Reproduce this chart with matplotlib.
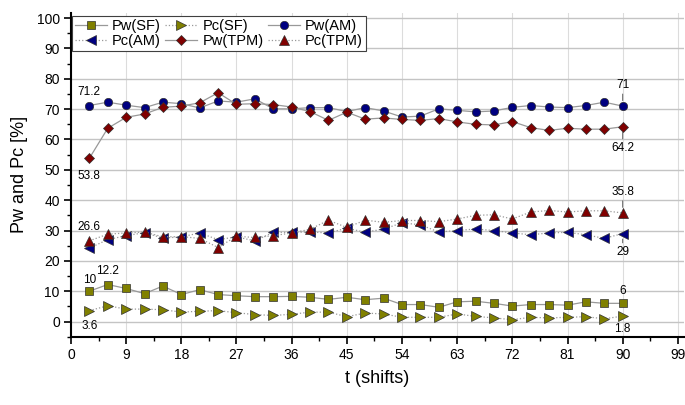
import matplotlib
matplotlib.use("Agg")
import matplotlib.pyplot as plt
from matplotlib.ticker import MultipleLocator

plt.rcParams['font.family'] = ['Liberation Sans', 'DejaVu Sans']

t = [3, 6, 9, 12, 15, 18, 21, 24, 27, 30, 33, 36, 39, 42, 45,
     48, 51, 54, 57, 60, 63, 66, 69, 72, 75, 78, 81, 84, 87, 90]

pw_sf = [10.0, 12.2, 10.9, 9.2, 11.7, 8.9, 10.5, 8.9, 8.5, 8.2, 8.2, 8.3, 8.0, 7.3, 8.0,
         7.2, 7.7, 5.6, 5.6, 4.7, 6.5, 6.7, 6.0, 5.1, 5.6, 5.6, 5.4, 6.5, 6.0, 6.0]
pc_sf = [3.6, 5.2, 4.1, 4.1, 3.9, 3.1, 3.4, 3.6, 2.9, 2.3, 2.0, 2.4, 3.1, 3.1, 1.6,
         2.8, 2.5, 1.4, 1.4, 1.4, 2.5, 1.7, 1.2, 0.6, 1.4, 1.2, 1.4, 1.6, 0.9, 1.8]
pw_am = [71.2, 72.3, 71.3, 70.5, 72.3, 71.8, 70.4, 72.7, 72.3, 73.4, 70.1, 70.1, 70.5, 70.5, 69.2,
         70.5, 69.4, 67.4, 67.7, 70.1, 69.6, 69.1, 69.4, 70.6, 71.2, 70.7, 70.5, 71.2, 72.3, 71.0]
pc_am = [24.2, 27.0, 28.3, 29.3, 27.5, 27.9, 29.2, 27.0, 27.9, 26.6, 29.4, 29.4, 29.5, 29.2, 30.8,
         29.4, 30.5, 32.5, 31.9, 29.5, 30.0, 30.5, 30.0, 29.2, 28.6, 29.2, 29.4, 28.6, 27.4, 29.0]
pw_tpm = [53.8, 63.7, 67.3, 68.4, 70.6, 71.0, 72.1, 75.4, 71.6, 71.8, 71.5, 70.7, 69.2, 66.3, 69.0,
          66.7, 67.1, 66.6, 66.3, 66.9, 65.8, 65.0, 64.8, 65.9, 63.9, 63.0, 63.7, 63.4, 63.4, 64.2]
pc_tpm = [26.6, 28.8, 29.2, 29.5, 27.9, 28.0, 27.4, 24.4, 28.1, 27.7, 28.3, 29.2, 30.4, 33.4, 31.0,
          33.4, 32.7, 33.3, 33.3, 32.9, 33.8, 35.0, 35.2, 33.8, 36.1, 36.6, 36.1, 36.5, 36.5, 35.8]

x_ticks = [0, 9, 18, 27, 36, 45, 54, 63, 72, 81, 90, 99]
y_ticks = [0, 10, 20, 30, 40, 50, 60, 70, 80, 90, 100]

OLIVE = '#808000'
NAVY = '#000080'
DRED = '#800000'
LINE = '#999999'

fig = plt.figure(figsize=(6.85, 4.05), dpi=100)
ax = fig.add_axes([0.1036, 0.1686, 0.8949, 0.7994])

def series(y, marker, color, ls, ms, label):
    return ax.plot(t, y, ls, color=LINE, lw=0.9, marker=marker, markersize=ms,
                   markerfacecolor=color, markeredgecolor='#303030', markeredgewidth=0.5,
                   label=label, zorder=3)[0]

h_pwsf = series(pw_sf, 's', OLIVE, '-', 5.5, 'Pw(SF)')
h_pcsf = series(pc_sf, '>', OLIVE, ':', 6.5, 'Pc(SF)')
h_pwam = series(pw_am, 'o', NAVY, '-', 6, 'Pw(AM)')
h_pcam = series(pc_am, '<', NAVY, ':', 6.5, 'Pc(AM)')
h_pwtpm = series(pw_tpm, 'D', DRED, '-', 5.5, 'Pw(TPM)')
h_pctpm = series(pc_tpm, '^', DRED, ':', 6.5, 'Pc(TPM)')

ax.set_xlim(0, 100)
ax.set_ylim(-5, 101.7)
ax.set_xticks(x_ticks)
ax.set_yticks(y_ticks)
ax.xaxis.set_minor_locator(MultipleLocator(4.5))
ax.yaxis.set_minor_locator(MultipleLocator(5))
ax.tick_params(which='major', direction='out', length=5, width=1.2, labelsize=10, pad=3)
ax.tick_params(which='minor', direction='out', length=3, width=1.0)
for s in ['top', 'right']:
    ax.spines[s].set_visible(False)
for s in ['left', 'bottom']:
    ax.spines[s].set_linewidth(1.5)

for xv in x_ticks:
    ax.axvline(xv, color='#dcdcdc', lw=0.8, zorder=0)
for yv in y_ticks:
    ax.axhline(yv, color='#c4c4c4', lw=1.0, zorder=0)

ax.set_xlabel('t (shifts)', fontsize=13, labelpad=6)
ax.set_ylabel('Pw and Pc [%]', fontsize=13, labelpad=6)

leg = fig.legend(handles=[h_pwsf, h_pcam, h_pcsf, h_pwtpm, h_pwam, h_pctpm],
                 loc='upper left', bbox_to_anchor=(0.105, 0.9605), ncol=3,
                 fontsize=10.5, frameon=True, fancybox=False, framealpha=1,
                 edgecolor='#404040', borderpad=0.2, labelspacing=0.1,
                 handlelength=2.2, handletextpad=0.35, columnspacing=0.3,
                 borderaxespad=0)
leg.get_frame().set_linewidth(0.8)

ann = dict(fontsize=8.5, ha='center', va='center', textcoords='offset points')
lead = dict(arrowstyle='-', color='#606060', lw=0.7, shrinkA=0, shrinkB=4)

ax.annotate('71.2', (t[0], pw_am[0]), xytext=(0, 10), **ann)
ax.annotate('53.8', (t[0], pw_tpm[0]), xytext=(0, -13), **ann)
ax.annotate('26.6', (t[0], pc_tpm[0]), xytext=(0, 10), **ann)
ax.annotate('12.2', (t[1], pw_sf[1]), xytext=(0, 10), **ann)
ax.annotate('10', (t[0], pw_sf[0]), xytext=(0, 8), **ann)
ax.annotate('3.6', (t[0], pc_sf[0]), xytext=(0, -11), **ann)
ax.annotate('71', (t[-1], pw_am[-1]), xytext=(0, 15), arrowprops=lead, **ann)
ax.annotate('64.2', (t[-1], pw_tpm[-1]), xytext=(0, -15), arrowprops=lead, **ann)
ax.annotate('35.8', (t[-1], pc_tpm[-1]), xytext=(0, 15), arrowprops=lead, **ann)
ax.annotate('29', (t[-1], pc_am[-1]), xytext=(0, -13), arrowprops=lead, **ann)
ax.annotate('6', (t[-1], pw_sf[-1]), xytext=(0, 9), **ann)
ax.annotate('1.8', (t[-1], pc_sf[-1]), xytext=(0, -9), **ann)

fig.savefig('out.png', dpi=100)
